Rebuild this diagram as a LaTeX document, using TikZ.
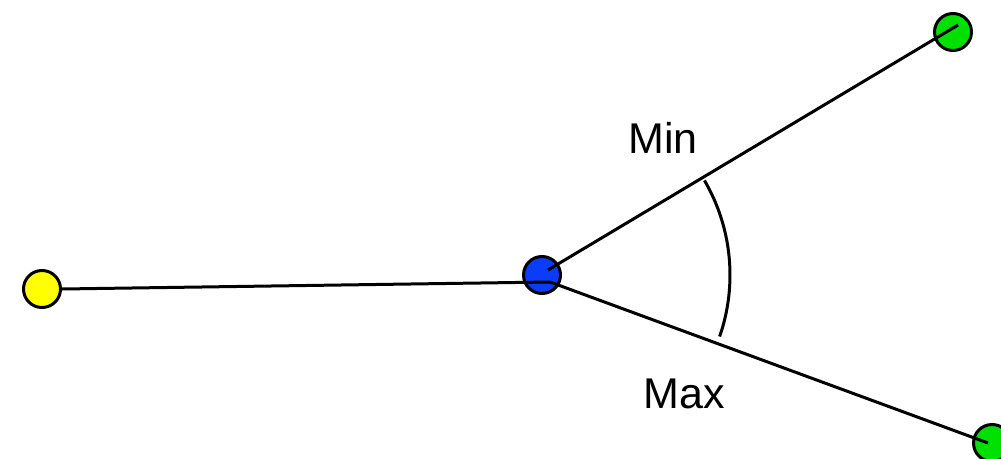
\documentclass[tikz,border=0pt]{standalone}
\usepackage{fontspec}
\setmainfont{Liberation Sans}
\definecolor{dotyellow}{RGB}{255,255,0}
\definecolor{dotblue}{RGB}{10,60,250}
\definecolor{dotgreen}{RGB}{0,224,0}
\begin{document}
\begin{tikzpicture}[x=1pt,y=-1pt,
  dot/.style={circle,draw=black,line width=3pt,minimum size=37pt,inner sep=0pt},
  edge/.style={draw=black,line width=3pt},
  lbl/.style={font=\fontsize{43}{50}\selectfont,inner sep=0pt}]
\useasboundingbox (0,0) rectangle (1001,458);
\node[dot,fill=dotyellow] (Y) at (42,289) {};
\node[dot,fill=dotblue] (B) at (542,275) {};
\node[dot,fill=dotgreen] (G1) at (953,32) {};
\node[dot,fill=dotgreen] (G2) at (992,443) {};
\coordinate (b1) at (548,270);
\coordinate (b2) at (550,282);
\coordinate (g1e) at (958,25);
\coordinate (g2e) at (988,443);
\draw[edge] (Y.east) -- (b2);
\draw[edge] (b1) -- (g1e);
\draw[edge] (b2) -- (g2e);
\draw[edge] (B.center) ++(-30.2:188) arc[start angle=-30.2,end angle=19.1,radius=188];
\node[lbl] (min) at (663,137.5) {Min};
\node[lbl] (max) at (684,393.5) {Max};
\end{tikzpicture}
\end{document}
